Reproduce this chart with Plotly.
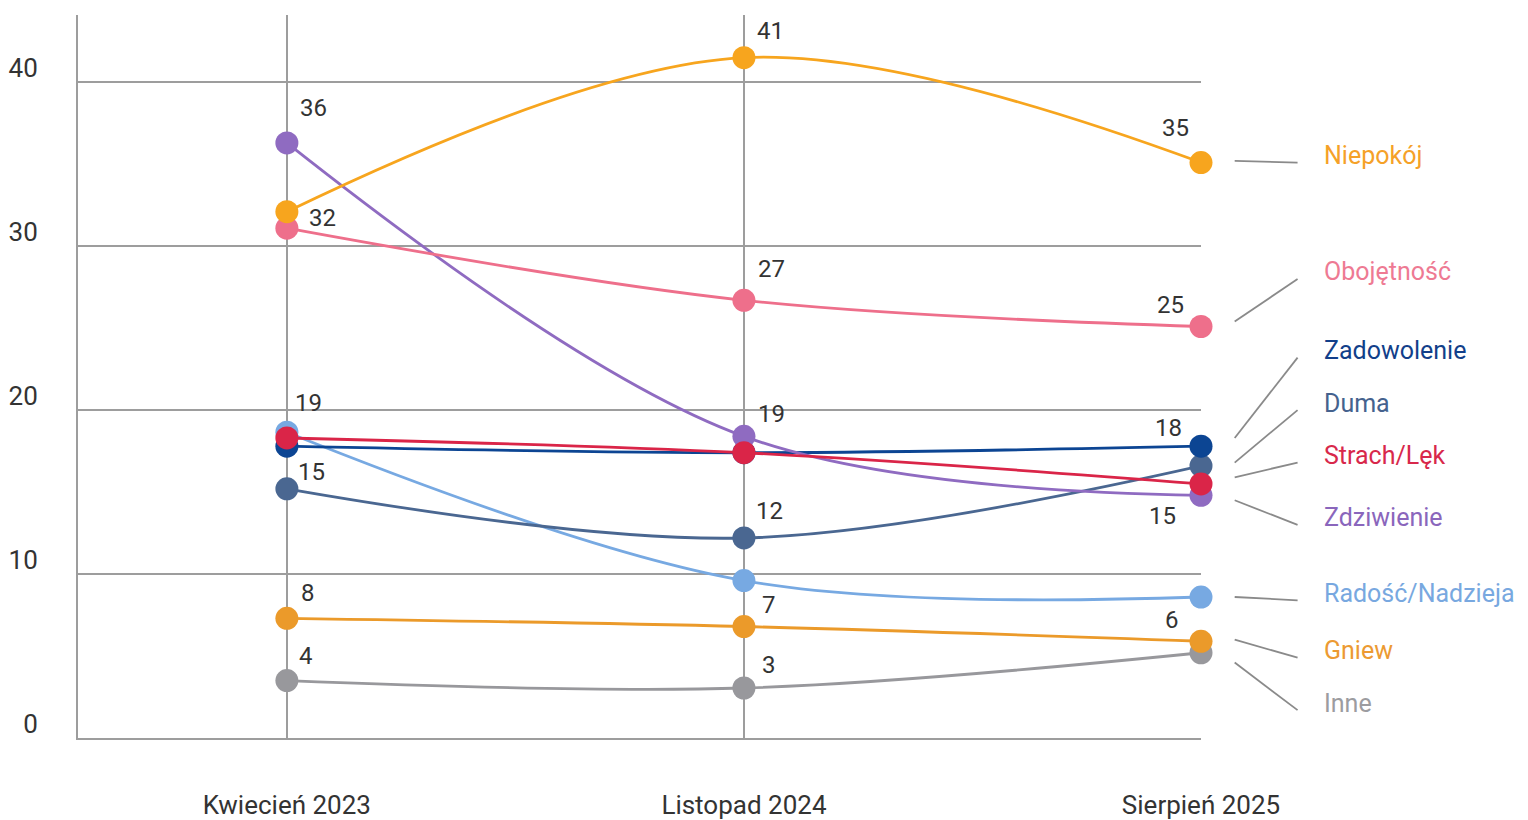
import plotly.graph_objects as go

# -------------------- Data
periods = ['Kwiecień 2023', 'Listopad 2024', 'Sierpień 2025']

# drawing order matters for overlapping markers: later ones sit on top
series_names = [
    'Inne', 'Gniew', 'Radość/Nadzieja', 'Duma', 'Zadowolenie',
    'Zdziwienie', 'Strach/Lęk', 'Obojętność', 'Niepokój',
]
inne = [3.5, 3.05, 5.2]
gniew = [7.3, 6.8, 5.9]
radosc = [18.65, 9.6, 8.6]
duma = [15.2, 12.2, 16.6]
zadowolenie = [17.8, 17.4, 17.8]
zdziwienie = [36.3, 18.4, 14.8]
strach = [18.3, 17.4, 15.5]
obojetnosc = [31.1, 26.7, 25.1]
niepokoj = [32.1, 41.5, 35.1]

# value labels that are printed next to the points (None = not printed)
inne_labels = ['4', '3', None]
gniew_labels = ['8', '7', '6']
radosc_labels = ['19', None, None]
duma_labels = ['15', '12', None]
zadowolenie_labels = [None, None, '18']
zdziwienie_labels = ['36', '19', '15']
strach_labels = [None, None, None]
obojetnosc_labels = [None, '27', '25']
niepokoj_labels = ['32', '41', '35']

y_ticks = [0, 10, 20, 30, 40]

# -------------------- Styling
FONT = 'Roboto, "Open Sans", sans-serif'
TEXT = '#333333'
GRID = '#9d9d9d'
SIZE = 26

style = {
    'Inne':            dict(color='#98989c', label='#9c9ca0'),
    'Gniew':           dict(color='#eb9a2a', label='#ec9a32'),
    'Radość/Nadzieja': dict(color='#77a9e2', label='#78a8e0'),
    'Duma':            dict(color='#4a6791', label='#45628e'),
    'Zadowolenie':     dict(color='#0c4593', label='#123f8a'),
    'Zdziwienie':      dict(color='#8f6bc1', label='#8a66bc'),
    'Strach/Lęk':      dict(color='#da2548', label='#d8284b'),
    'Obojętność':      dict(color='#ee6f8b', label='#ee7a93'),
    'Niepokój':        dict(color='#f7a51e', label='#f5a128'),
}

values = dict(zip(series_names, [
    inne, gniew, radosc, duma, zadowolenie,
    zdziwienie, strach, obojetnosc, niepokoj,
]))
labels = dict(zip(series_names, [
    inne_labels, gniew_labels, radosc_labels, duma_labels, zadowolenie_labels,
    zdziwienie_labels, strach_labels, obojetnosc_labels, niepokoj_labels,
]))

# pixel offsets of the value labels from their points (xshift, yshift)
label_shift = {
    'Inne':            [(19, 25), (25, 23), None],
    'Gniew':           [(21, 25), (25, 22), (-29, 21)],
    'Radość/Nadzieja': [(22, 29), None, None],
    'Duma':            [(25, 17), (26, 27), None],
    'Zadowolenie':     [None, None, (-33, 18)],
    'Zdziwienie':      [(27, 35), (28, 22), (-39, -21)],
    'Strach/Lęk':      [None, None, None],
    'Obojętność':      [None, (28, 31), (-31, 22)],
    'Niepokój':        [(36, -6), (27, 27), (-26, 35)],
}

# callout connectors on the right: (start y, end y) in data units
callout = {
    'Niepokój':        (35.2, 35.1),
    'Obojętność':      (25.4, 28.0),
    'Zadowolenie':     (18.3, 23.2),
    'Duma':            (16.8, 20.0),
    'Strach/Lęk':      (15.9, 16.8),
    'Zdziwienie':      (14.5, 13.0),
    'Radość/Nadzieja': (8.6, 8.4),
    'Gniew':           (6.0, 4.9),
    'Inne':            (4.6, 1.7),
}

x = list(range(len(periods)))
fig = go.Figure()

for name in series_names:
    fig.add_trace(go.Scatter(
        x=x,
        y=values[name],
        name=name,
        mode='lines+markers',
        line=dict(color=style[name]['color'], width=2.8, shape='spline', smoothing=1),
        marker=dict(color=style[name]['color'], size=23),
        cliponaxis=False,
        showlegend=False,
    ))

annotations = []
for name in series_names:
    for i, (val, txt) in enumerate(zip(values[name], labels[name])):
        if txt is None:
            continue
        dx, dy = label_shift[name][i]
        annotations.append(dict(
            x=x[i], y=val, xref='x', yref='y',
            text=txt, showarrow=False,
            xshift=dx, yshift=dy,
            font=dict(family=FONT, size=24, color=TEXT),
        ))

shapes = []
for name, (y0, y1) in callout.items():
    shapes.append(dict(
        type='line', xref='paper', yref='y',
        x0=1.030, x1=1.086, y0=y0, y1=y1,
        line=dict(color='#8a8a8a', width=1.8),
    ))
    annotations.append(dict(
        x=1.108, y=y1, xref='paper', yref='y',
        text=name, showarrow=False,
        xanchor='left', yanchor='middle', yshift=7,
        font=dict(family=FONT, size=25, color=style[name]['label']),
    ))

# the page has an 8px body margin, so the figure is a bit smaller than the window
fig.update_layout(
    width=1520,
    height=812,
    margin=dict(l=70, r=327, t=7, b=82),
    paper_bgcolor='white',
    plot_bgcolor='white',
    font=dict(family=FONT, size=SIZE, color=TEXT),
    shapes=shapes,
    annotations=annotations,
)

fig.update_xaxes(
    range=[-0.457, 2.0],
    tickvals=x,
    ticktext=periods,
    showgrid=True,
    gridcolor=GRID,
    gridwidth=2,
    zeroline=False,
    showline=True,
    linecolor=GRID,
    linewidth=2,
    ticks='',
    automargin=False,
    ticklabelstandoff=43,
    tickfont=dict(family=FONT, size=SIZE, color=TEXT),
)
fig.update_yaxes(
    range=[0, 44.1],
    tickvals=y_ticks,
    showgrid=True,
    gridcolor=GRID,
    gridwidth=2,
    zeroline=False,
    showline=True,
    linecolor=GRID,
    linewidth=2,
    ticks='',
    automargin=False,
    ticklabelstandoff=33,
    ticklabelshift=-14,
    tickfont=dict(family=FONT, size=SIZE, color=TEXT),
)

fig.write_html('out.html')
